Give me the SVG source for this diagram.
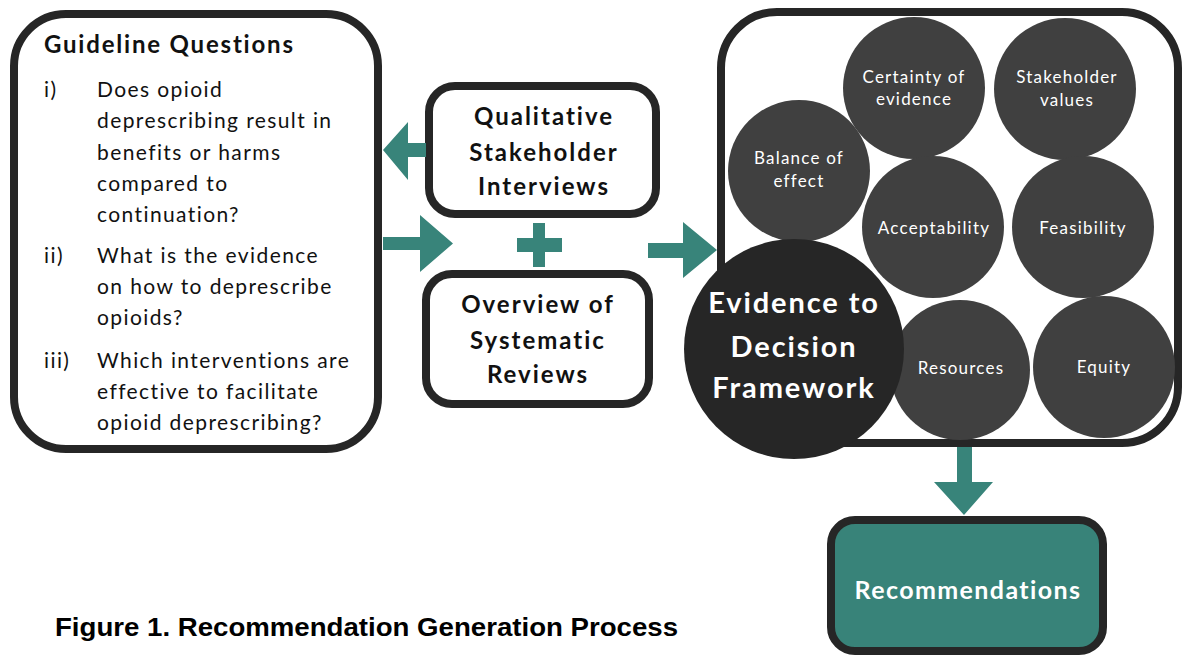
<svg xmlns="http://www.w3.org/2000/svg" width="1184" height="657" viewBox="0 0 1184 657">
<style>
.box{fill:#ffffff;stroke:#262626;stroke-width:8}
.arrow{fill:#38847a}
.t{font-family:Lato,"Open Sans","DejaVu Sans",sans-serif;fill:#111111}
.q{font-size:21px;letter-spacing:1.4px}
.hb{font-weight:bold;font-size:24px;text-anchor:middle;letter-spacing:2px}
.c{fill:#404040}
.ct{font-family:Lato,"Open Sans","DejaVu Sans",sans-serif;fill:#ffffff;font-size:17px;text-anchor:middle;letter-spacing:1.2px}
.big{font-family:Lato,"Open Sans","DejaVu Sans",sans-serif;fill:#ffffff;font-size:29px;font-weight:bold;text-anchor:middle;letter-spacing:1.9px}
</style>
<rect width="1184" height="657" fill="#ffffff"/>

<g id="guideline-questions">
<rect class="box" x="14" y="14" width="364" height="435" rx="52"/>
<text class="t" x="44" y="53" font-size="24" font-weight="bold" letter-spacing="1.8">Guideline Questions</text>
<g class="t q">
<text x="44" y="97">i)</text>
<text x="97" y="97">Does opioid</text>
<text x="97" y="128">deprescribing result in</text>
<text x="97" y="160">benefits or harms</text>
<text x="97" y="191">compared to</text>
<text x="97" y="222">continuation?</text>
<text x="44" y="263">ii)</text>
<text x="97" y="263">What is the evidence</text>
<text x="97" y="294">on how to deprescribe</text>
<text x="97" y="325">opioids?</text>
<text x="44" y="368">iii)</text>
<text x="97" y="368">Which interventions are</text>
<text x="97" y="399">effective to facilitate</text>
<text x="97" y="430">opioid deprescribing?</text>
</g>
</g>

<g id="qualitative-interviews">
<rect class="box" x="429" y="86" width="227" height="128" rx="26"/>
<g class="t hb">
<text x="544" y="125">Qualitative</text>
<text x="544" y="161">Stakeholder</text>
<text x="544" y="195">Interviews</text>
</g>
</g>

<g id="plus">
<rect class="arrow" x="533" y="223" width="12" height="44"/>
<rect class="arrow" x="517" y="238" width="45" height="14"/>
</g>

<g id="systematic-reviews">
<rect class="box" x="426" y="274" width="223" height="130" rx="26"/>
<g class="t hb">
<text x="538" y="313">Overview of</text>
<text x="538" y="349">Systematic</text>
<text x="538" y="383">Reviews</text>
</g>
</g>

<g id="etd-framework">
<rect class="box" x="721" y="12" width="457" height="431" rx="56"/>
<g id="certainty"><circle class="c" cx="914" cy="88" r="71"/><text class="ct" x="914" y="83">Certainty of</text><text class="ct" x="914" y="105">evidence</text></g>
<g id="stakeholder-values"><circle class="c" cx="1065" cy="89" r="71"/><text class="ct" x="1067" y="83">Stakeholder</text><text class="ct" x="1067" y="106">values</text></g>
<g id="balance"><circle class="c" cx="799" cy="171" r="71"/><text class="ct" x="799" y="164">Balance of</text><text class="ct" x="799" y="187">effect</text></g>
<g id="acceptability"><circle class="c" cx="933" cy="227" r="71"/><text class="ct" x="934" y="234">Acceptability</text></g>
<g id="feasibility"><circle class="c" cx="1083" cy="227" r="71"/><text class="ct" x="1083" y="234">Feasibility</text></g>
<g id="resources"><circle class="c" cx="960" cy="370" r="70"/><text class="ct" x="961" y="374">Resources</text></g>
<g id="equity"><circle class="c" cx="1104" cy="367" r="71"/><text class="ct" x="1104" y="373">Equity</text></g>
<g id="etd-circle"><circle cx="794" cy="349" r="110" fill="#262626"/>
<text class="big" x="794" y="313">Evidence to</text>
<text class="big" x="794" y="357">Decision</text>
<text class="big" x="794" y="398">Framework</text></g>
</g>

<g id="recommendations">
<rect x="831" y="520" width="272" height="131" rx="24" fill="#388379" stroke="#262626" stroke-width="8"/>
<text x="968" y="599" font-family="Lato,'Open Sans','DejaVu Sans',sans-serif" font-size="25" font-weight="bold" fill="#ffffff" text-anchor="middle" letter-spacing="1.4">Recommendations</text>
</g>

<g id="connectors">
<polygon class="arrow" points="383,150 408,122 408,143 426,143 426,157 408,157 408,180"/>
<polygon class="arrow" points="383,237 420,237 420,215 453,243.5 420,272 420,250 383,250"/>
<polygon class="arrow" points="648,243 683,243 683,222 717,250 683,278 683,258 648,258"/>
<polygon class="arrow" points="957,447 972,447 972,482 993,482 964,515 934,482 957,482"/>
</g>

<text x="55" y="636" font-family="'Liberation Sans',Arial,sans-serif" font-size="26" font-weight="bold" fill="#000000" textLength="623" lengthAdjust="spacingAndGlyphs">Figure 1. Recommendation Generation Process</text>
</svg>
